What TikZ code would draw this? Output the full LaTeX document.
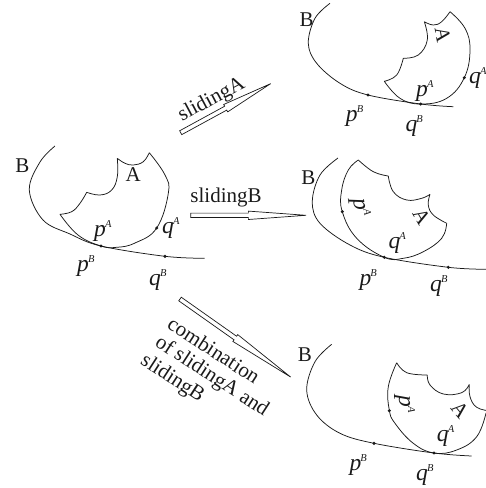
\documentclass[tikz,border=0pt]{standalone}
\usepackage{fontspec}
\setmainfont{Liberation Serif}
\usepackage{tikz}
\definecolor{ink}{HTML}{1A1A1A}
\tikzset{
  curveline/.style={draw=ink, line width=0.75pt},
  slidearrow/.style={draw=ink, line width=0.7pt, fill=white},
  contact/.style={circle, fill=ink, inner sep=0pt, minimum size=3.4pt},
  bigtext/.style={font=\fontsize{21}{23}\selectfont, text=ink, inner sep=0pt},
  ptlabel/.style={font=\fontsize{23.5}{25}\selectfont\itshape, text=ink, inner sep=0pt, anchor=base west},
}
\newcommand{\supmark}[2]{#1\kern-0.8pt\raisebox{9pt}{\fontsize{10.5}{11}\selectfont #2}}
\newcommand{\hollowarrow}[3]{%
  \draw[slidearrow, shift={(#1)}, rotate=#2] (0,-2.2) -- (#3*0.5,-2.2) -- (#3*0.5,-4.2) -- (#3,0) -- (#3*0.5,4.2) -- (#3*0.5,2.2) -- (0,2.2) -- cycle;}
\begin{document}
\begin{tikzpicture}[x=1pt, y=-1pt]
\useasboundingbox (0,0) rectangle (486,488);

% start
\draw[curveline] plot[smooth, tension=0.6] coordinates {(55,146) (40,162) (29.3,190) (43,220) (70,234) (101,246) (165,256.3) (204.7,258.3)};
\draw[curveline] plot[smooth, tension=0.7] coordinates {(60,214.3) (71.7,211.7) (80,203.3) (86.7,192.3)}
  plot[smooth, tension=0.7] coordinates {(86.7,192.3) (100,195) (111.7,190) (117.3,176.7) (117.3,158.3)}
  plot[smooth, tension=0.7] coordinates {(117.3,158.3) (125,163.3) (133.3,165) (143.3,161.7) (149.3,152.7)}
  plot[smooth, tension=0.7] coordinates {(149.3,152.7) (165,175) (168.3,193.3) (156.7,228) (135,243) (116.7,247.3) (101,246) (78,235) (60,214.3)};
\node[contact] (pA1) at (101,246) {};
\node[contact] (qA1) at (156.7,228) {};
\node[contact] (qB1) at (165,256.3) {};
\node[bigtext] (B1) at (22.3,166) {B};
\node[bigtext] (A1) at (133.3,175) {A};
\node[ptlabel] (lpA1) at (94,236) {\supmark{p}{A}};
\node[ptlabel] (lqA1) at (162,233) {\supmark{q}{A}};
\node[ptlabel] (lpB1) at (77,271.7) {\supmark{p}{B}};
\node[ptlabel] (lqB1) at (149,285) {\supmark{q}{B}};

% sliding A
\draw[curveline] plot[smooth, tension=0.6] coordinates {(330,3.3) (315,18.3) (308.3,43.3) (316.7,63.3) (340,83.3) (368,95) (420.7,104) (453.3,106.7)};
\draw[curveline] plot[smooth, tension=0.7] coordinates {(384.3,81.3) (396.7,75) (403.3,58.3)}
  plot[smooth, tension=0.7] coordinates {(403.3,58.3) (418.3,55) (427.3,40) (424.3,21.7)}
  plot[smooth, tension=0.7] coordinates {(424.3,21.7) (433.3,25) (441.7,21.7) (450,11.7)}
  plot[smooth, tension=0.7] coordinates {(450,11.7) (465,28.3) (470,50) (464.3,77.7) (446.7,98.3) (420.7,104) (400,98.3) (384.3,81.3)};
\node[contact] (pB2) at (368,95) {};
\node[contact] (pA2) at (420.7,104) {};
\node[contact] (qA2) at (464.3,77.7) {};
\node[bigtext] (B2) at (306.7,19.3) {B};
\node[bigtext, rotate=-80] (A2) at (442.7,35) {A};
\node[ptlabel] (lpA2) at (416,96) {\supmark{p}{A}};
\node[ptlabel] (lqA2) at (469,83) {\supmark{q}{A}};
\node[ptlabel] (lpB2) at (345.7,121.7) {\supmark{p}{B}};
\node[ptlabel] (lqB2) at (405.3,131.7) {\supmark{q}{B}};

% sliding B
\draw[curveline] plot[smooth, tension=0.6] coordinates {(338,158) (320,175) (312.3,201.7) (320,223.3) (350,245) (384.3,257.3) (448.3,267.3) (486,269.3)};
\draw[curveline] plot[smooth, tension=0.7] coordinates {(358.3,160) (373.3,171.7) (388.3,176)}
  plot[smooth, tension=0.7] coordinates {(388.3,176) (393.3,191.7) (406.7,200) (421.7,198.3) (430,194.3)}
  plot[smooth, tension=0.7] coordinates {(430,194.3) (428.3,205) (433.3,215) (446.7,223.3)}
  plot[smooth, tension=0.7] coordinates {(446.7,223.3) (441.7,238.3) (423.3,251.7) (403.3,258.3) (384.3,257.3) (356.7,238.3) (342.3,211.7) (341.7,190) (348.3,170) (358.3,160)};
\node[contact] (pA3) at (342.3,211.7) {};
\node[contact] (pB3) at (384.3,257.3) {};
\node[contact] (qB3) at (448.3,267.3) {};
\node[bigtext] (B3) at (308.3,177.3) {B};
\node[bigtext, rotate=-60] (A3) at (421.7,216.7) {A};
\node[ptlabel, rotate=-82, anchor=center] (lpA3) at (359.7,207.7) {\supmark{p}{A}};
\node[ptlabel] (lqA3) at (388.3,248.3) {\supmark{q}{A}};
\node[ptlabel] (lpB3) at (359.3,285) {\supmark{p}{B}};
\node[ptlabel] (lqB3) at (430,291.7) {\supmark{q}{B}};

% combination
\draw[curveline] plot[smooth, tension=0.6] coordinates {(331.7,344.3) (315,361.7) (306.7,390) (316.7,415) (340,433.3) (374,443.3) (434,453) (471.7,456)};
\draw[curveline] plot[smooth, tension=0.7] coordinates {(396.7,362.7) (406.7,372.7) (427.3,375)}
  plot[smooth, tension=0.7] coordinates {(427.3,375) (430,385) (443.3,394) (461.7,392.7) (469.3,384.3)}
  plot[smooth, tension=0.7] coordinates {(469.3,384.3) (470,396.7) (476.7,407.3) (490,411)}
  plot[smooth, tension=0.7] coordinates {(486,413) (476.7,436.7) (456.7,450) (434,453) (413.3,443.3) (395,423.3) (389.3,410) (388.3,386.7) (396.7,362.7)};
\node[contact] (pA4) at (389.3,410.7) {};
\node[contact] (qB4) at (434,453) {};
\node[contact] (pB4) at (374,443.3) {};
\node[bigtext] (B4) at (305,354.3) {B};
\node[bigtext, rotate=-50] (A4) at (460,410) {A};
\node[ptlabel, rotate=-90, anchor=center] (lpA4) at (404.7,404) {\supmark{p}{A}};
\node[ptlabel] (lqA4) at (436.7,441.7) {\supmark{q}{A}};
\node[ptlabel] (lpB4) at (349.3,470) {\supmark{p}{B}};
\node[ptlabel] (lqB4) at (416,480) {\supmark{q}{B}};

% arrows
\hollowarrow{180.7,132.7}{28.6}{102.5}
\hollowarrow{190.7,215.3}{0}{115.3}
\hollowarrow{180,299}{-35.2}{135.4}
\node[bigtext, rotate=28] (slideA) at (211.7,100) {slidingA};
\node[bigtext] (slideB) at (226,197) {slidingB};
\node[bigtext, rotate=-33] (both1) at (214,350) {combination};
\node[bigtext, rotate=-33] (both2) at (211.7,376.7) {of slidingA and};
\node[bigtext, rotate=-33] (both3) at (172.3,379) {slidingB};
\end{tikzpicture}
\end{document}
